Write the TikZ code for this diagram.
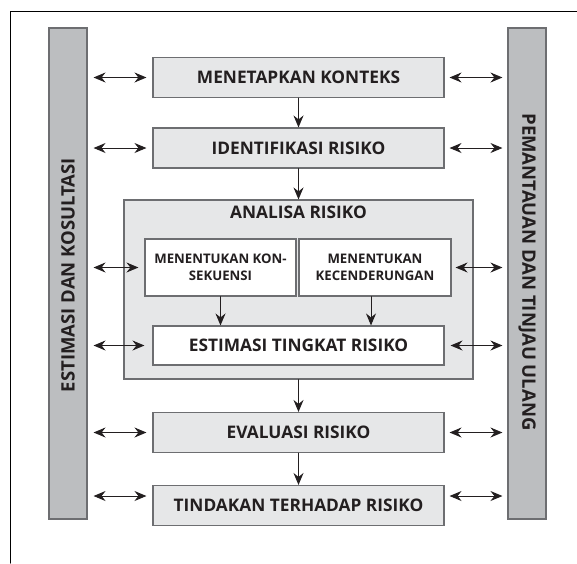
\documentclass[tikz,border=0pt]{standalone}
\usepackage{fontspec}
\setmainfont{Open Sans}
\usepackage{xcolor}
\definecolor{boxgray}{HTML}{E6E7E8}
\definecolor{bargray}{HTML}{BCBEC0}
\definecolor{edgegray}{HTML}{6D6E71}
\definecolor{inkblack}{HTML}{231F20}
\usetikzlibrary{arrows.meta}

\begin{document}
\begin{tikzpicture}[x=1pt,y=-1pt,line cap=round,
  stepbox/.style={draw=edgegray,fill=boxgray,line width=1.1pt,inner sep=0pt,
                  minimum width=291pt,minimum height=40pt,text=inkblack,
                  font=\fontsize{17.3}{20}\selectfont\bfseries},
  subbox/.style={draw=edgegray,fill=white,line width=1.1pt,inner sep=0pt,
                 minimum height=57pt,align=center,text=inkblack,
                 font=\fontsize{13.2}{17}\selectfont\bfseries},
  sidebar/.style={draw=edgegray,fill=bargray,line width=1.1pt,inner sep=0pt,
                  minimum width=38pt,minimum height=491pt},
  sidetext/.style={text=inkblack,font=\fontsize{18.5}{20}\selectfont\bfseries},
  tip/.style={Stealth[length=12pt,width=10pt,inset=4pt]},
  flow/.style={-{Stealth[length=12pt,width=10pt,inset=4pt]},line width=1pt,inkblack},
  talk/.style={{Stealth[length=12pt,width=10pt,inset=4pt]}-{Stealth[length=12pt,width=10pt,inset=4pt]},
               line width=1pt,inkblack}]

  \useasboundingbox (0,0) rectangle (577,563);

  % frame
  \draw[line width=1pt,black] (10,563) -- (10,11) -- (577,11);

  % side bars
  \node[sidebar] (lbar) at (68,273.5) {};
  \node[sidebar] (rbar) at (527,273.5) {};
  \node[sidetext,rotate=90]  (ltxt) at (68,275) {ESTIMASI DAN KOSULTASI};
  \node[sidetext,rotate=-90] (rtxt) at (527,272) {PEMANTAUAN DAN TINJAU ULANG};

  % main steps
  \node[stepbox] (ctx) at (298.5,77.5) {MENETAPKAN KONTEKS};
  \node[stepbox] (idn) at (298.5,148) {IDENTIFIKASI RISIKO};
  \node[stepbox,minimum width=349pt,minimum height=179pt] (ana) at (298.5,289.5) {};
  \node[text=inkblack,font=\fontsize{17.3}{20}\selectfont\bfseries] (anat) at (298.5,212) {ANALISA RISIKO};
  \node[subbox,minimum width=151pt] (kon) at (220.5,267.5) {MENENTUKAN KON-\\SEKUENSI};
  \node[subbox,minimum width=152pt] (kec) at (375,267.5) {MENENTUKAN\\KECENDERUNGAN};
  \node[stepbox,fill=white,minimum height=39pt] (est) at (298.5,345.5) {ESTIMASI TINGKAT RISIKO};
  \node[stepbox] (eva) at (298.5,432.5) {EVALUASI RISIKO};
  \node[stepbox] (tin) at (298.5,505.5) {TINDAKAN TERHADAP RISIKO};

  % flow
  \draw[flow] (ctx) -- (idn);
  \draw[flow] (idn) -- (ana);
  \draw[flow] (kon.south) -- (kon.south |- est.north);
  \draw[flow] ([xshift=-4pt]kec.south) -- ([xshift=-4pt]kec.south |- est.north);
  \draw[flow] (ana) -- (eva);
  \draw[flow] (eva) -- (tin);

  % links to side bars
  \draw[talk] ([xshift=6pt]lbar.east |- ctx.west) -- ([xshift=-6pt]ctx.west);
  \draw[talk] ([xshift=5pt]ctx.east) -- ([xshift=-5pt]rbar.west |- ctx.east);
  \draw[talk] ([xshift=6pt]lbar.east |- idn.west) -- ([xshift=-6pt]idn.west);
  \draw[talk] ([xshift=5pt]idn.east) -- ([xshift=-5pt]rbar.west |- idn.east);
  \draw[talk] ([xshift=6pt]lbar.east |- kon.west) -- ([xshift=-6pt]kon.west);
  \draw[talk] ([xshift=4pt]kec.east) -- ([xshift=-5pt]rbar.west |- kec.east);
  \draw[talk] ([xshift=6pt]lbar.east |- est.west) -- ([xshift=-8pt]est.west);
  \draw[talk] ([xshift=6pt]est.east) -- ([xshift=-5pt]rbar.west |- est.east);
  \draw[talk] ([xshift=6pt]lbar.east |- eva.west) -- ([xshift=-6pt]eva.west);
  \draw[talk] ([xshift=5pt]eva.east) -- ([xshift=-5pt]rbar.west |- eva.east);
  \draw[talk] ([xshift=6pt,yshift=9.5pt]lbar.east |- tin.west) -- ([xshift=-6pt,yshift=9.5pt]tin.west);
  \draw[talk] ([xshift=5pt,yshift=9.5pt]tin.east) -- ([xshift=-5pt,yshift=9.5pt]rbar.west |- tin.east);
\end{tikzpicture}
\end{document}
